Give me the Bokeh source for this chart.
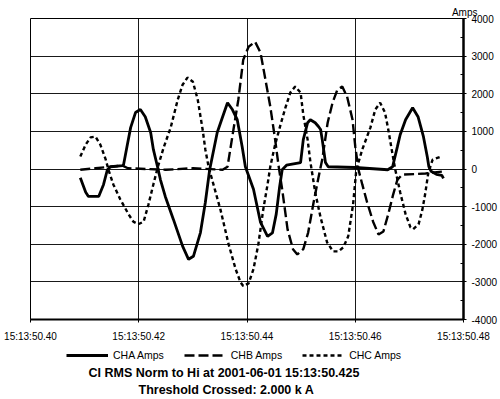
from bokeh.plotting import figure
from bokeh.layouts import column
from bokeh.models import Range1d, FixedTicker, Legend, LegendItem, Title, Label
from bokeh.embed import file_html
from bokeh.resources import INLINE

# time axis: milliseconds after 15:13:50.40
x_tick_values = [0, 20, 40, 60, 80]
x_tick_labels = ["15:13:50.40", "15:13:50.42", "15:13:50.44", "15:13:50.46", "15:13:50.48"]
y_tick_values = [-4000, -3000, -2000, -1000, 0, 1000, 2000, 3000, 4000]
y_tick_labels = ["-4000", "-3000", "-2000", "-1000", "0", "1000", "2000", "3000", "4000"]
y_minor_values = [-3500, -2500, -1500, -500, 500, 1500, 2500, 3500]

series_names = ["CHA Amps", "CHB Amps", "CHC Amps"]
title_lines = ["CI RMS Norm to Hi at 2001-06-01 15:13:50.425", "Threshold Crossed: 2.000 k A"]
unit_label = "Amps"

cha_ms = [9.2, 10.2, 10.7, 12.6, 13.5, 14.2, 14.8, 17.0, 17.2, 17.9, 18.5, 19.4, 20.3, 21.2, 22.2,
          22.7, 23.5, 24.0, 24.9, 26.4, 28.1, 29.2, 30.1, 31.4, 32.3, 33.1, 34.5, 35.5, 36.4, 37.3,
          38.2, 39.1, 39.7, 41.2, 42.5, 43.8, 44.7, 45.4, 46.0, 46.5, 47.3, 49.9, 50.4, 51.2, 51.7,
          52.6, 53.2, 53.6, 53.9, 54.5, 55.0, 60.0, 66.0, 66.9, 67.8, 68.3, 69.3, 70.6, 71.6, 72.6,
          73.3, 73.6, 74.0, 75.0, 76.0, 76.3]
cha_amps = [-230, -620, -730, -730, -410, -20, 60, 90, 120, 650, 1100, 1500, 1580, 1390, 970,
            520, 40, -280, -730, -1340, -2050, -2400, -2320, -1690, -890, -20, 970, 1390, 1760, 1580,
            1310, 600, 60, -540, -1420, -1790, -1700, -1200, -500, -20, 100, 170, 780, 1230, 1310,
            1230, 1130, 1050, 780, 170, 60, 40, -20, 60, 600, 910, 1310, 1630, 1390, 860,
            330, 60, -60, -140, -170, -250]

chb_ms = [9.2, 12.0, 14.8, 17.0, 18.0, 25.0, 30.0, 35.5, 36.4, 37.5, 38.4, 39.3, 40.3, 41.5, 42.5,
          43.4, 44.3, 45.2, 45.8, 46.5, 47.5, 48.5, 49.3, 50.4, 51.3, 52.3, 53.2, 53.9, 54.9, 55.8,
          56.7, 57.6, 58.5, 59.5, 60.0, 60.6, 61.3, 62.2, 63.3, 64.3, 65.2, 66.1, 67.0, 67.8, 68.7,
          73.0, 74.0, 76.0]
chb_amps = [-20, 20, 60, 90, 20, -20, 20, -20, 60, 1050, 1840, 2900, 3250, 3380, 3090,
            2380, 1660, 780, 120, -540, -1610, -2130, -2270, -2130, -1690, -890, -230, 250, 1230, 1760,
            2110, 2190, 1920, 1310, 600, -20, -410, -890, -1400, -1740, -1660, -1200, -680, -280, -150,
            -120, -100, -70]

chc_ms = [9.2, 10.2, 11.1, 12.0, 12.9, 13.9, 14.4, 15.3, 16.6, 18.1, 19.0, 19.9, 20.9, 21.8, 22.7,
          23.5, 24.6, 25.9, 27.2, 28.1, 29.0, 30.0, 30.9, 31.8, 32.3, 32.9, 33.8, 35.1, 36.6, 37.9,
          38.8, 39.3, 40.3, 41.2, 42.1, 43.0, 43.8, 44.3, 45.2, 46.2, 47.1, 48.0, 48.9, 49.9, 50.4,
          51.2, 51.7, 52.6, 53.6, 54.8, 55.9, 56.9, 57.8, 58.7, 59.6, 60.2, 61.3, 62.8, 63.7, 64.6,
          65.5, 66.1, 66.9, 67.4, 68.3, 69.3, 70.2, 70.7, 71.7, 72.4, 72.9, 73.5, 74.3, 75.8]
chc_amps = [330, 650, 840, 860, 650, 250, -20, -410, -810, -1200, -1400, -1470, -1400, -940, -410,
            40, 570, 1100, 1840, 2240, 2430, 2320, 1840, 1050, 520, 60, -410, -1080, -2000, -2660,
            -3010, -3110, -3040, -2660, -2000, -1080, -410, 60, 650, 1180, 1630, 2030, 2190, 2030, 1440,
            780, 200, -620, -1290, -1950, -2190, -2190, -2080, -1790, -940, -20, 520, 1100, 1580, 1760,
            1500, 1050, 380, -20, -620, -1200, -1550, -1600, -1470, -1080, -680, -100, 250, 330]

FONT = "Liberation Sans"
W = 500
H_MAIN = 344
H_FOOT = 55
FRAME_L, FRAME_R = 30, 463

# ---------------- main chart ----------------
p = figure(width=W, height=H_MAIN,
           x_range=Range1d(0, 80), y_range=Range1d(-4000, 4000),
           y_axis_location="right", toolbar_location=None, output_backend="svg",
           min_border_left=FRAME_L, min_border_top=18, min_border_right=W - FRAME_R,
           min_border_bottom=24,
           background_fill_color="white", border_fill_color="white")
p.outline_line_color = "black"
p.outline_line_width = 1

p.xgrid.ticker = FixedTicker(ticks=x_tick_values)
p.ygrid.ticker = FixedTicker(ticks=y_tick_values)
for g in (p.xgrid, p.ygrid):
    g.grid_line_color = "black"
    g.grid_line_width = 1
    g.grid_line_alpha = 0.9

xa = p.xaxis[0]
xa.ticker = FixedTicker(ticks=x_tick_values)
xa.major_label_overrides = dict(zip(x_tick_values, x_tick_labels))
xa.axis_line_width = 2
xa.major_tick_in = 0
xa.major_tick_out = 3
xa.major_label_standoff = 8
xa.major_label_text_font = FONT
xa.major_label_text_font_size = "10px"
xa.major_label_text_color = "black"

ya = p.yaxis[0]
ya.ticker = FixedTicker(ticks=y_tick_values, minor_ticks=y_minor_values)
ya.major_label_overrides = dict(zip(y_tick_values, y_tick_labels))
ya.axis_line_width = 2.5
ya.major_tick_in = 3
ya.major_tick_out = 3
ya.minor_tick_in = 3
ya.minor_tick_out = 0
ya.major_label_standoff = 5
ya.major_label_text_font = FONT
ya.major_label_text_font_size = "10px"
ya.major_label_text_color = "black"

line_styles = [dict(line_width=2.8, line_dash="solid"),
               dict(line_width=2.4, line_dash="10 4"),
               dict(line_width=2.4, line_dash="4 3")]

p.line(cha_ms, cha_amps, line_color="black", **line_styles[0])
p.line(chb_ms, chb_amps, line_color="black", **line_styles[1])
p.line(chc_ms, chc_amps, line_color="black", **line_styles[2])

amps = Title(text=unit_label, align="right", offset=-14, standoff=2,
             text_font=FONT, text_font_size="10px", text_font_style="normal", text_color="black")
p.add_layout(amps, "above")

# ---------------- footer: legend + caption ----------------
# the column aligns this frame with the chart frame, so x is in page pixels
f = figure(width=W, height=H_FOOT, x_range=Range1d(FRAME_L, FRAME_R), y_range=Range1d(0, H_FOOT),
           x_axis_location=None, y_axis_location=None, toolbar_location=None,
           output_backend="svg", min_border_left=FRAME_L, min_border_right=W - FRAME_R,
           min_border_top=0, min_border_bottom=0,
           background_fill_color="white", border_fill_color="white")
f.grid.visible = False
f.outline_line_color = None

# legend keys: proxies kept outside the footer's visible range
keys = [f.line([-100, -90], [-100, -100], line_color="black", **st) for st in line_styles]
legend = Legend(items=[LegendItem(label=n, renderers=[r]) for n, r in zip(series_names, keys)],
                orientation="horizontal", location=(36, H_FOOT - 18),
                border_line_color=None, background_fill_alpha=0,
                glyph_width=42, glyph_height=14, label_height=14, label_standoff=5,
                spacing=20, padding=2, margin=0,
                label_text_font=FONT, label_text_font_size="10.5px", label_text_color="black")
f.add_layout(legend)

f.add_layout(Label(x=88, y=H_FOOT - 28, text=title_lines[0], text_align="left", text_baseline="middle",
                   text_font=FONT, text_font_size="12.5px", text_font_style="bold",
                   text_color="black"))
f.add_layout(Label(x=138, y=H_FOOT - 45, text=title_lines[1], text_align="left", text_baseline="middle",
                   text_font=FONT, text_font_size="12.5px", text_font_style="bold",
                   text_color="black"))

layout = column(p, f, spacing=0)
open("out.html", "w").write(file_html(layout, INLINE))
